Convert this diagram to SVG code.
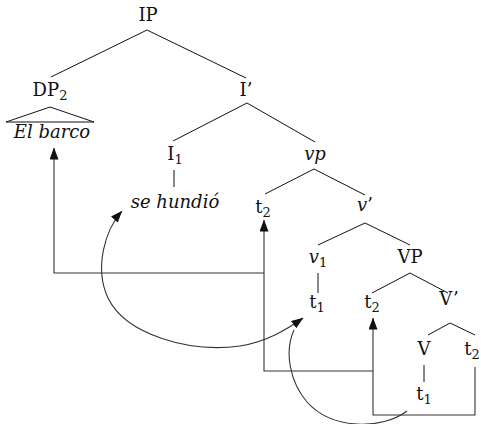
<svg xmlns="http://www.w3.org/2000/svg" width="481" height="424" viewBox="0 0 481 424">
<defs>
<marker id="ah" markerUnits="userSpaceOnUse" markerWidth="12" markerHeight="9" refX="11.5" refY="4.5" orient="auto-start-reverse" viewBox="0 0 12 9">
<path d="M0,0 L12,4.5 L0,9 Z" fill="#111"/>
</marker>
</defs>
<style>
text{font-family:'DejaVu Serif','Liberation Serif',serif;font-size:18px;fill:#111;text-anchor:middle}
.it{font-style:italic}
.sub{font-size:13px;font-style:normal}
.tree line,.tree path{stroke:#111;stroke-width:1;fill:none}
.conn path,.conn line{stroke:#333;stroke-width:1.1;fill:none}
</style>
<rect width="481" height="424" fill="#fff"/>
<g class="tree">
<g id="IP"><text x="148" y="21">IP</text>
<line x1="147" y1="30" x2="51" y2="77"/><line x1="147" y1="30" x2="246" y2="78"/></g>
<g id="DP2"><text x="50" y="96">DP<tspan class="sub" dy="4">2</tspan></text>
<path d="M50,107 L6,122 L94,122 Z"/></g>
<g id="ElBarco"><text class="it" x="52" y="138">El barco</text></g>
<g id="Ibar"><text x="246" y="96">I’</text>
<line x1="247" y1="103" x2="173" y2="141"/><line x1="247" y1="103" x2="315" y2="142"/></g>
<g id="I1"><text x="175" y="160">I<tspan class="sub" dy="4">1</tspan></text>
<line x1="174" y1="170" x2="174" y2="187"/></g>
<g id="seHundio"><text class="it" x="175" y="208">se hundió</text></g>
<g id="vp"><text class="it" x="315" y="160">vp</text>
<line x1="314" y1="169" x2="265" y2="194"/><line x1="314" y1="169" x2="365" y2="195"/></g>
<g id="t2a"><text x="263" y="213">t<tspan class="sub" dy="4">2</tspan></text></g>
<g id="vbar"><text x="365" y="211"><tspan class="it">v</tspan>’</text>
<line x1="365" y1="223" x2="318" y2="245"/><line x1="365" y1="223" x2="410" y2="245"/></g>
<g id="v1"><text x="318" y="263"><tspan class="it">v</tspan><tspan class="sub" dy="4">1</tspan></text>
<line x1="318" y1="273" x2="318" y2="293"/></g>
<g id="VP"><text x="410" y="263">VP</text>
<line x1="410" y1="273" x2="372" y2="293"/><line x1="410" y1="273" x2="448" y2="293"/></g>
<g id="t1a"><text x="317" y="308">t<tspan class="sub" dy="4">1</tspan></text></g>
<g id="t2b"><text x="372" y="308">t<tspan class="sub" dy="4">2</tspan></text></g>
<g id="Vbar"><text x="449" y="305">V’</text>
<line x1="450" y1="323" x2="428" y2="335"/><line x1="450" y1="323" x2="475" y2="335"/></g>
<g id="V"><text x="424" y="355">V</text>
<line x1="424" y1="365" x2="424" y2="382"/></g>
<g id="t2c"><text x="472" y="355">t<tspan class="sub" dy="4">2</tspan></text></g>
<g id="t1b"><text x="424" y="400">t<tspan class="sub" dy="4">1</tspan></text></g>
</g>
<g class="conn">
<path d="M264,273 L54,273 L54,148" marker-end="url(#ah)"/>
<path d="M373,371 L264,371 L264,220" marker-end="url(#ah)"/>
<path d="M475,367 L475,415 L373,415 L373,318" marker-end="url(#ah)"/>
<path d="M122,211 C105,230 94,268 108,298 C126,335 190,353 240,346 C266,342 286,330 303,318" marker-start="url(#ah)" marker-end="url(#ah)"/>
<path d="M407,411 C382,430 332,430 307,402 C290,382 284,352 294,330"/>
</g>
</svg>
